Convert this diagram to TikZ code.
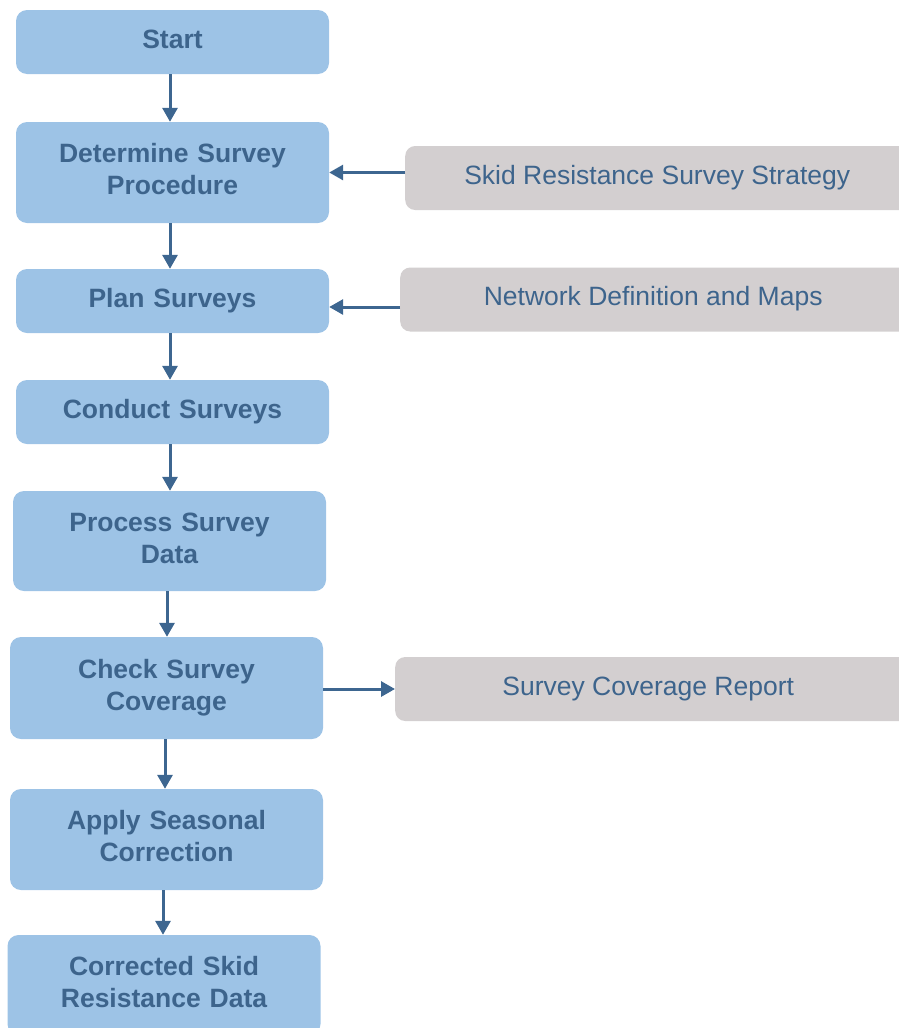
\documentclass[tikz,border=0pt]{standalone}
\usepackage{fontspec}
\setmainfont{Liberation Sans}
\usetikzlibrary{arrows.meta}
\definecolor{boxblue}{HTML}{9DC3E6}
\definecolor{boxgrey}{HTML}{D3CFD0}
\definecolor{txtblue}{HTML}{3D648C}
\definecolor{arrblue}{HTML}{3D6690}
\tikzset{
  stepbox/.style={fill=boxblue, rounded corners=11pt, minimum width=313pt, text width=300pt, align=center,
    font=\fontsize{26.5}{32}\selectfont\bfseries, text=txtblue, inner sep=0pt,
    execute at begin node=\strut, execute at end node=\strut},
  infobox/.style={fill=boxgrey, rounded corners=10pt, minimum width=520pt, minimum height=64pt, inner sep=0pt,
    font=\fontsize{26.5}{32}\selectfont, text=txtblue,
    execute at begin node=\strut},
  arr/.style={draw=arrblue, line width=3pt, -{Triangle[length=14pt,width=15pt]}}
}
\begin{document}
\begin{tikzpicture}[x=1pt,y=-1pt]
\useasboundingbox (0,0) rectangle (899,1028);
\clip (0,0) rectangle (899,1028);
\node[stepbox, minimum height=64pt] (start) at (172.5,42) {Start};
\node[stepbox, minimum height=101pt] (det) at (172.5,172.5) {Determine Survey\\Procedure};
\node[stepbox, minimum height=64pt] (plan) at (172.5,301) {Plan Surveys};
\node[stepbox, minimum height=64pt] (cond) at (172.5,412) {Conduct Surveys};
\node[stepbox, minimum height=100pt] (proc) at (169.5,541) {Process Survey\\Data};
\node[stepbox, minimum height=102pt] (check) at (166.5,688) {Check Survey\\Coverage};
\node[stepbox, minimum height=101pt] (apply) at (166.5,839.5) {Apply Seasonal\\Correction};
\node[stepbox, minimum height=100pt] (corr) at (164,985) {Corrected Skid\\Resistance Data};
% grey boxes (extend beyond right edge, clipped)
\node[infobox, anchor=west] (skid) at (405,178) {\hspace*{-16pt}Skid Resistance Survey Strategy};
\node[infobox, anchor=west] (net) at (400,299.5) {\hspace*{-14pt}Network Definition and Maps};
\node[infobox, anchor=west] (rep) at (395,689) {\hspace*{-14pt}Survey Coverage Report};
% vertical arrows
\draw[arr] ([xshift=-2.5pt]start.south) -- ([xshift=-2.5pt]start.south |- det.north);
\draw[arr] ([xshift=-2.5pt]det.south) -- ([xshift=-2.5pt]det.south |- plan.north);
\draw[arr] ([xshift=-2.5pt]plan.south) -- ([xshift=-2.5pt]plan.south |- cond.north);
\draw[arr] ([xshift=-2.5pt]cond.south) -- ([xshift=-2.5pt]cond.south |- proc.north);
\draw[arr] ([xshift=-2.5pt]proc.south) -- ([xshift=-2.5pt]proc.south |- check.north);
\draw[arr] ([xshift=-1.5pt]check.south) -- ([xshift=-1.5pt]check.south |- apply.north);
\draw[arr] ([xshift=-3.5pt]apply.south) -- ([xshift=-3.5pt]apply.south |- corr.north);
% horizontal arrows
\draw[arr] (skid.west |- det.east) -- (det.east);
\draw[arr] ([yshift=-6pt]net.west |- plan.east) -- ([yshift=-6pt]plan.east);
\draw[arr] (check.east |- rep.west) -- (rep.west);
\end{tikzpicture}
\end{document}
